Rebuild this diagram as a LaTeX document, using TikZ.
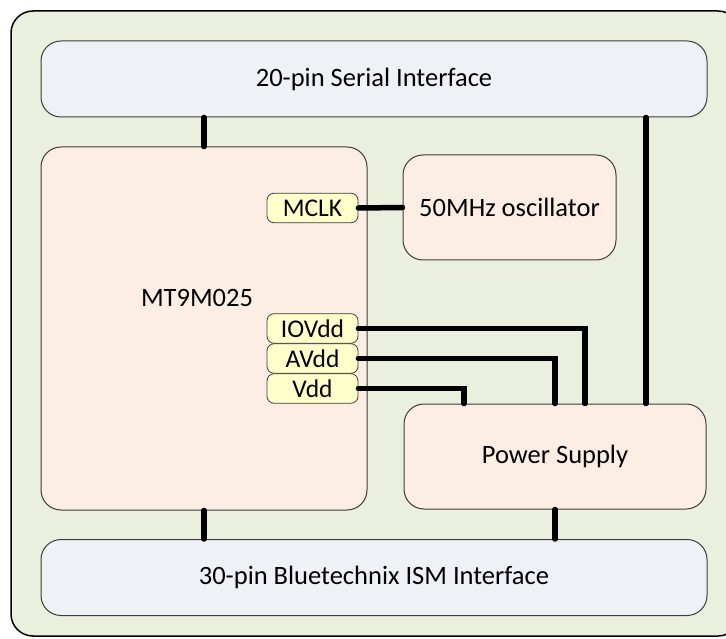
\documentclass[tikz,border=0pt]{standalone}
\usepackage{fontspec}
\setmainfont{Carlito}
\usetikzlibrary{positioning}

\definecolor{boardgreen}{RGB}{235,239,222}
\definecolor{ifaceblue}{RGB}{238,241,246}
\definecolor{chipred}{RGB}{252,238,228}
\definecolor{pinyellow}{RGB}{255,255,204}
\definecolor{edgegray}{RGB}{60,60,60}

\tikzset{
  block/.style={draw=edgegray, line width=1pt, rounded corners=20pt, inner sep=0pt, font=\fontsize{26.5}{30}\selectfont},
  iface/.style={block, fill=ifaceblue, minimum width=666pt, minimum height=76pt},
  chip/.style={block, fill=chipred},
  pinbox/.style={draw=edgegray, line width=0.8pt, fill=pinyellow, rounded corners=7pt, inner sep=0pt,
    minimum width=91pt, minimum height=29.5pt, font=\fontsize{25.5}{28}\selectfont},
  wire/.style={line width=5.5pt, line cap=round}
}

\begin{document}
\begin{tikzpicture}[x=1pt, y=-1pt]

    \useasboundingbox (0,0) rectangle (726,639);

    % board
    \draw[fill=boardgreen, line width=1.5pt, rounded corners=22pt] (11,11) rectangle (740,636);

    % interfaces
    \node[iface] (serial) at (374,79) {20-pin Serial Interface};
    \node[iface] (ism) at (374,577.5) {30-pin Bluetechnix ISM Interface};

    % MT9M025
    \node[chip, minimum width=326pt, minimum height=363pt] (mt) at (204,328.5) {};
    \node[font=\fontsize{26.5}{30}\selectfont] (mtlabel) at (197,298) {MT9M025};

    % pins
    \node[pinbox] (mclk) at (312.5,208) {MCLK};
    \node[pinbox] (iovdd) at (312.5,328.5) {IOVdd};
    \node[pinbox] (avdd) at (312.5,358.5) {AVdd};
    \node[pinbox] (vdd) at (312.5,388.5) {Vdd};

    % oscillator and power supply
    \node[chip, minimum width=213pt, minimum height=105pt] (osc) at (509.5,207.5) {50MHz oscillator};
    \node[chip, minimum width=302pt, minimum height=105pt] (power) at (555,456.5) {Power Supply};

    % connections
    \draw[wire] (mt.north) -- (mt.north |- serial.south);
    \draw[wire] (mt.south) -- (mt.south |- ism.north);
    \draw[wire] (power.south) -- (power.south |- ism.north);
    \draw[wire] (mclk.east) -- (osc.west);
    \draw[wire] (iovdd.east) -| ([xshift=30pt]power.north);
    \draw[wire] (avdd.east) -| (power.north);
    \draw[wire] (vdd.east) -| ([xshift=-91pt]power.north);
    \draw[wire] ([xshift=91pt]power.north) -- ([xshift=91pt]power.north |- serial.south);

\end{tikzpicture}
\end{document}
